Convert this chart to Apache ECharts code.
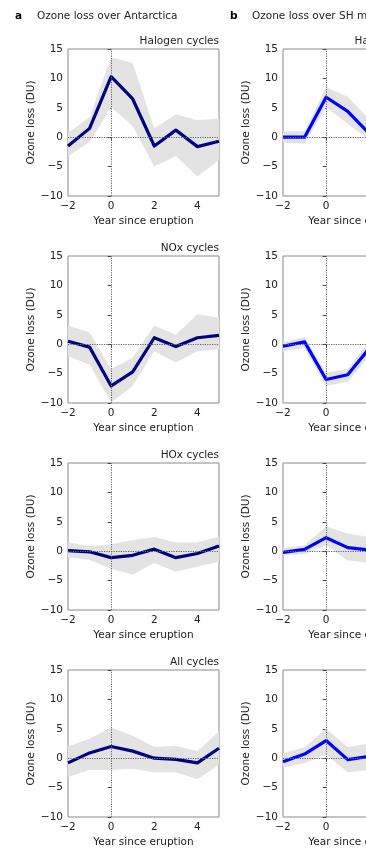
<!DOCTYPE html>
<html>
<head>
<meta charset="utf-8">
<title>Ozone loss after eruption</title>
<script src="https://cdn.jsdelivr.net/npm/echarts@6/dist/echarts.min.js"></script>
<style>
  html, body { margin: 0; padding: 0; background: #fff; }
  #chart { width: 366px; height: 854px; }
</style>
</head>
<body>
<div id="chart"></div>
<script>
// ---- data: ozone loss (DU) by year relative to the eruption ----
const yearsAnt = [-2, -1, 0, 1, 2, 3, 4, 5];
const yearsSH = [-2, -1, 0, 1, 2];

// Antarctica
const antHalogen      = [-1.5, 1.5, 10.3, 6.5, -1.5, 1.2, -1.6, -0.7];
const antHalogenUpper = [0.7, 3.4, 13.6, 12.6, 1.5, 3.9, 2.9, 3.2];
const antHalogenLower = [-3.3, -0.8, 5.1, 1.9, -5.0, -3.2, -6.7, -3.9];

const antNOx      = [0.5, -0.5, -7.1, -4.7, 1.1, -0.4, 1.1, 1.5];
const antNOxUpper = [3.2, 2.0, -4.2, -2.3, 3.2, 1.6, 5.1, 4.5];
const antNOxLower = [-2.0, -3.5, -9.9, -7.1, -1.2, -3.1, -1.2, -0.8];

const antHOx      = [0.1, -0.1, -1.1, -0.7, 0.35, -1.1, -0.4, 0.9];
const antHOxUpper = [1.5, 0.9, 1.2, 1.9, 2.4, 1.5, 1.5, 2.5];
const antHOxLower = [-1.0, -1.5, -3.0, -4.0, -2.0, -3.5, -2.6, -1.8];

const antAll      = [-0.8, 0.9, 2.0, 1.2, 0.0, -0.2, -0.8, 1.7];
const antAllUpper = [2.0, 3.3, 5.2, 3.8, 1.9, 2.1, 1.2, 4.6];
const antAllLower = [-3.2, -2.0, -2.0, -1.8, -2.4, -2.4, -3.6, -1.1];

// SH midlatitudes
const shHalogen      = [0.0, 0.0, 6.8, 4.4, 0.6];
const shHalogenUpper = [1.0, 1.0, 8.5, 6.9, 3.0];
const shHalogenLower = [-0.9, -1.1, 5.1, 2.3, -0.5];

const shNOx      = [-0.35, 0.4, -6.0, -5.2, -0.7];
const shNOxUpper = [0.4, 1.2, -4.9, -4.2, 0.5];
const shNOxLower = [-1.2, -0.6, -7.1, -6.4, -2.0];

const shHOx      = [-0.2, 0.3, 2.3, 0.6, 0.2];
const shHOxUpper = [0.6, 1.0, 4.2, 3.0, 2.4];
const shHOxLower = [-0.7, -0.5, 1.0, -1.6, -2.0];

const shAll      = [-0.6, 0.7, 3.0, -0.25, 0.3];
const shAllUpper = [0.8, 1.9, 5.0, 1.9, 2.5];
const shAllLower = [-1.6, -0.8, 0.6, -2.4, -2.0];

const panelTitles = ['Halogen cycles', 'NOx cycles', 'HOx cycles', 'All cycles'];
const columnTitles = ['Ozone loss over Antarctica', 'Ozone loss over SH midlatitudes'];
const columnLetters = ['a', 'b'];
const xTicks = [-2, 0, 2, 4];
const yTicks = [-10, -5, 0, 5, 10, 15];

const columns = [
  {
    years: yearsAnt, color: '#000080',
    panels: [
      [antHalogen, antHalogenUpper, antHalogenLower],
      [antNOx, antNOxUpper, antNOxLower],
      [antHOx, antHOxUpper, antHOxLower],
      [antAll, antAllUpper, antAllLower]
    ]
  },
  {
    years: yearsSH, color: '#0000ff',
    panels: [
      [shHalogen, shHalogenUpper, shHalogenLower],
      [shNOx, shNOxUpper, shNOxLower],
      [shHOx, shHOxUpper, shHOxLower],
      [shAll, shAllUpper, shAllLower]
    ]
  }
];

// ---- layout ----
const FONT = '"DejaVu Sans", sans-serif';
const TEXT = '#222';
const SPINE = '#8a8a8a';
const colLeft = [68, 283];
const rowTop = [49, 256, 463, 670];
const plotW = 151, plotH = 147;

const grids = [], xAxes = [], yAxes = [], series = [], graphics = [];

columns.forEach((col, c) => {
  graphics.push({
    type: 'text', x: colLeft[c] - 53, y: 16,
    style: { text: columnLetters[c], font: 'bold 10.5px ' + FONT, fill: '#000', verticalAlign: 'middle' }
  });
  graphics.push({
    type: 'text', x: colLeft[c] - 31, y: 16,
    style: { text: columnTitles[c], font: '10.5px ' + FONT, fill: TEXT, verticalAlign: 'middle' }
  });

  col.panels.forEach((p, r) => {
    const idx = grids.length;
    const [mean, upper, lower] = p;
    const xs = col.years;

    grids.push({
      left: colLeft[c], top: rowTop[r], width: plotW, height: plotH,
      outerBoundsMode: 'none', containLabel: false,
      show: true, borderColor: SPINE, borderWidth: 1, backgroundColor: 'transparent'
    });
    graphics.push({
      type: 'text', x: colLeft[c] + plotW, y: rowTop[r] - 8,
      style: { text: panelTitles[r], font: '10.5px ' + FONT, fill: TEXT, align: 'right', verticalAlign: 'middle' }
    });

    xAxes.push({
      type: 'value', gridIndex: idx, min: -2, max: 5, interval: 2,
      name: 'Year since eruption', nameLocation: 'middle', nameGap: 20,
      nameTextStyle: { fontFamily: FONT, fontSize: 10.5, color: TEXT },
      axisLine: { show: false },
      axisTick: { show: true, inside: false, length: 3.5, lineStyle: { color: '#444' }, customValues: xTicks },
      axisLabel: {
        fontFamily: FONT, fontSize: 10.5, color: TEXT, margin: 5, customValues: xTicks,
        formatter: v => String(v).replace('-', '\u2212')
      },
      splitLine: { show: false }
    });
    yAxes.push({
      type: 'value', gridIndex: idx, min: -10, max: 15, interval: 5,
      name: 'Ozone loss (DU)', nameLocation: 'middle', nameGap: 29, nameRotate: 90,
      nameTextStyle: { fontFamily: FONT, fontSize: 10.5, color: TEXT },
      axisLine: { show: false },
      axisTick: { show: true, inside: false, length: 3.5, lineStyle: { color: '#444' }, customValues: yTicks },
      axisLabel: {
        fontFamily: FONT, fontSize: 10.5, color: TEXT, margin: 5, customValues: yTicks,
        formatter: v => String(v).replace('-', '\u2212')
      },
      splitLine: { show: false }
    });

    // uncertainty band between lower and upper bounds
    series.push({
      type: 'custom', xAxisIndex: idx, yAxisIndex: idx, z: 1, silent: true, clip: true,
      data: [[xs[0], mean[0]]],
      renderItem: (params, api) => {
        const top = xs.map((x, i) => api.coord([x, upper[i]]));
        const bottom = xs.map((x, i) => api.coord([x, lower[i]])).reverse();
        return { type: 'polygon', shape: { points: top.concat(bottom) }, style: { fill: '#e3e3e3' } };
      }
    });
    // dotted reference lines at year 0 and zero loss
    series.push({
      type: 'line', xAxisIndex: idx, yAxisIndex: idx, z: 2, data: [], silent: true,
      markLine: {
        silent: true, symbol: 'none', animation: false, label: { show: false },
        lineStyle: { type: [1.2, 1.2], color: '#666', width: 1 },
        data: [{ xAxis: 0 }, { yAxis: 0 }]
      }
    });
    // ensemble mean
    series.push({
      type: 'line', xAxisIndex: idx, yAxisIndex: idx, z: 3, silent: true,
      data: xs.map((x, i) => [x, mean[i]]),
      showSymbol: false, symbol: 'none',
      lineStyle: { color: col.color, width: 3.2, join: 'round' }
    });
  });
});

const chart = echarts.init(document.getElementById('chart'), null, { renderer: 'canvas' });
chart.setOption({
  animation: false,
  backgroundColor: '#fff',
  grid: grids,
  xAxis: xAxes,
  yAxis: yAxes,
  series: series,
  graphic: graphics
});
</script>
</body>
</html>
